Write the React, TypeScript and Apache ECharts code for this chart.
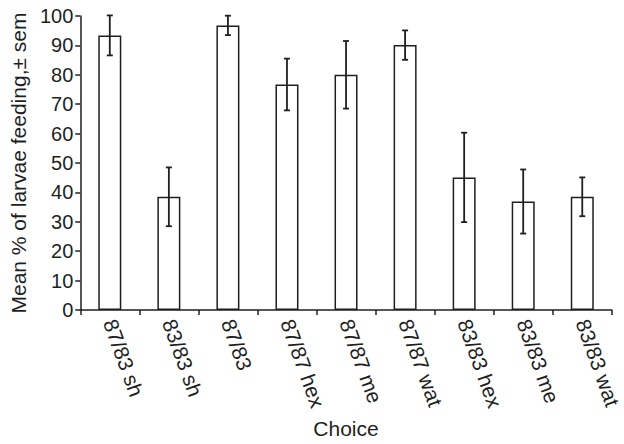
import React, { useEffect, useRef } from "react";
import * as echarts from "echarts";

const categories = ["87/83 sh", "83/83 sh", "87/83", "87/87 hex", "87/87 me", "87/87 wat", "83/83 hex", "83/83 me", "83/83 wat"];
const means = [93.4, 38.5, 96.8, 76.7, 80.0, 90.1, 45.1, 36.9, 38.5];
const sems = [6.8, 10.0, 3.3, 8.8, 11.5, 5.0, 15.2, 10.9, 6.6];
const yTicks = { min: 0, max: 100, interval: 10 };

const INK = "#1f1f1f";
const FONT = "Liberation Sans, Arial, Helvetica, sans-serif";

export default function App() {
  const ref = useRef<HTMLDivElement>(null);
  useEffect(() => {
    document.body.style.margin = "0";
    const chart = echarts.init(ref.current!, null, { renderer: "svg" });
    const errData = means.map((m, i) => [i, m - sems[i], m + sems[i]]);
    chart.setOption({
      animation: false,
      backgroundColor: "#ffffff",
      textStyle: { fontFamily: FONT },
      grid: { left: 79, right: 8, top: 16, bottom: 126, containLabel: false },
      xAxis: {
        type: "category",
        data: categories,
        boundaryGap: true,
        name: "Choice",
        nameLocation: "middle",
        nameGap: 108,
        nameTextStyle: { fontSize: 21, color: INK, fontFamily: FONT },
        axisLine: { lineStyle: { color: INK, width: 1.5 } },
        axisTick: { show: true, length: 5, inside: false, alignWithLabel: false, lineStyle: { color: INK, width: 1.5 } },
        axisLabel: { rotate: -70, fontSize: 21, color: INK, margin: 10, fontFamily: FONT, interval: 0 },
        splitLine: { show: false },
      },
      yAxis: {
        type: "value",
        min: yTicks.min,
        max: yTicks.max,
        interval: yTicks.interval,
        name: "Mean % of larvae feeding,± sem",
        nameLocation: "middle",
        nameGap: 50,
        nameTextStyle: { fontSize: 21, color: INK, fontFamily: FONT },
        axisLine: { show: true, lineStyle: { color: INK, width: 1.5 } },
        axisTick: { show: true, length: 5, lineStyle: { color: INK, width: 1.5 } },
        axisLabel: { fontSize: 20, color: INK, margin: 7, fontFamily: FONT },
        splitLine: { show: false },
      },
      series: [
        {
          type: "bar",
          data: means,
          barWidth: 23,
          itemStyle: { color: "#ffffff", borderColor: INK, borderWidth: 1.5 },
          z: 2,
        },
        {
          type: "custom",
          data: errData,
          z: 3,
          renderItem: (params: any, api: any) => {
            const x = api.value(0);
            const lo = api.coord([x, api.value(1)]);
            const hi = api.coord([x, api.value(2)]);
            const cw = 3;
            const style = { stroke: INK, lineWidth: 1.8 };
            return {
              type: "group",
              children: [
                { type: "line", shape: { x1: hi[0], y1: hi[1], x2: lo[0], y2: lo[1] }, style },
                { type: "line", shape: { x1: hi[0] - cw, y1: hi[1], x2: hi[0] + cw, y2: hi[1] }, style },
                { type: "line", shape: { x1: lo[0] - cw, y1: lo[1], x2: lo[0] + cw, y2: lo[1] }, style },
              ],
            };
          },
        },
      ],
    });
    return () => chart.dispose();
  }, []);
  return <div ref={ref} style={{ width: 624, height: 444 }} />;
}
